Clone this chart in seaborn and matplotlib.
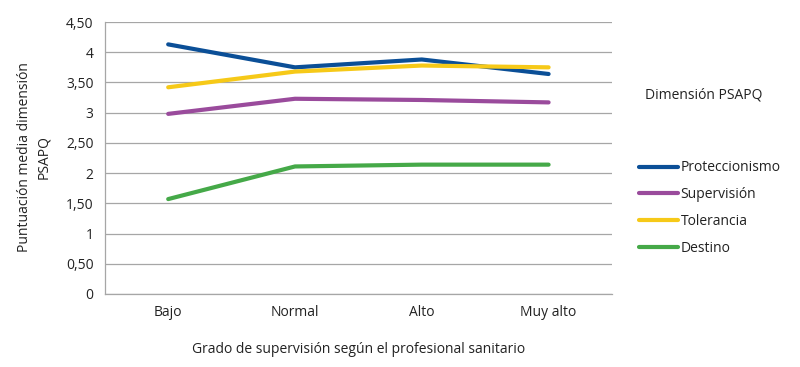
import matplotlib
matplotlib.use("Agg")
import matplotlib.pyplot as plt
import numpy as np
import pandas as pd
import seaborn as sns

# Data
grados = ["Bajo", "Normal", "Alto", "Muy alto"]
proteccionismo = [4.13, 3.75, 3.88, 3.64]
supervision = [2.98, 3.23, 3.21, 3.17]
tolerancia = [3.42, 3.68, 3.78, 3.75]
destino = [1.57, 2.11, 2.14, 2.14]

series = {
    "Proteccionismo": proteccionismo,
    "Supervisión": supervision,
    "Tolerancia": tolerancia,
    "Destino": destino,
}
colores = ["#0b4f97", "#9a4b9c", "#f6c918", "#45a948"]

y_ticks = [0, 0.5, 1, 1.5, 2, 2.5, 3, 3.5, 4, 4.5]
y_labels = ["0", "0,50", "1", "1,50", "2", "2,50", "3", "3,50", "4", "4,50"]

rows = []
for name, vals in series.items():
    for g, v in zip(grados, vals):
        rows.append({"Grado": g, "Puntuación": v, "Dimensión": name})
df = pd.DataFrame(rows)

sns.set_theme(style="white")
plt.rcParams["font.family"] = ["Open Sans", "DejaVu Sans"]
text_color = "#222222"

fig = plt.figure(figsize=(8, 3.67), dpi=100)
ax = fig.add_axes([0.131, 0.199, 0.634, 0.741])

sns.lineplot(data=df, x="Grado", y="Puntuación", hue="Dimensión",
             palette=colores, linewidth=3, ax=ax, sort=False, legend=True)

ax.set_xlim(-0.5, 3.5)
ax.set_ylim(0, 4.5)
ax.set_yticks(y_ticks)
ax.set_yticklabels(y_labels, color=text_color, fontsize=10)
ax.set_xticks(range(len(grados)))
ax.set_xticklabels(grados, color=text_color, fontsize=10)
ax.tick_params(axis="both", length=0, pad=8)

ax.grid(axis="y", color="#a6a6a6", linewidth=0.9)
ax.set_axisbelow(True)
for s in ["top", "right"]:
    ax.spines[s].set_visible(False)
for s in ["left", "bottom"]:
    ax.spines[s].set_color("#a6a6a6")
    ax.spines[s].set_linewidth(0.9)

ax.set_xlabel("Grado de supervisión según el profesional sanitario",
              color=text_color, fontsize=10, labelpad=16)
ax.set_ylabel("")
# two-line y label, each line centred on the axes
for xpos, line in [(0.031, "Puntuación media dimensión"), (0.055, "PSAPQ")]:
    fig.text(xpos, 0.572, line, rotation=90, ha="center", va="center",
             fontsize=10, color=text_color)

handles, labels = ax.get_legend_handles_labels()
ax.legend(handles, labels, loc="upper left", bbox_to_anchor=(0.783, 0.597),
          bbox_transform=fig.transFigure, frameon=False, fontsize=10,
          handlelength=2.8, handletextpad=0.2, labelspacing=0.85,
          labelcolor=text_color)
fig.text(0.88, 0.74, "Dimensión PSAPQ", ha="center", va="center",
         fontsize=10, color=text_color)

fig.savefig("out.png", dpi=100)
